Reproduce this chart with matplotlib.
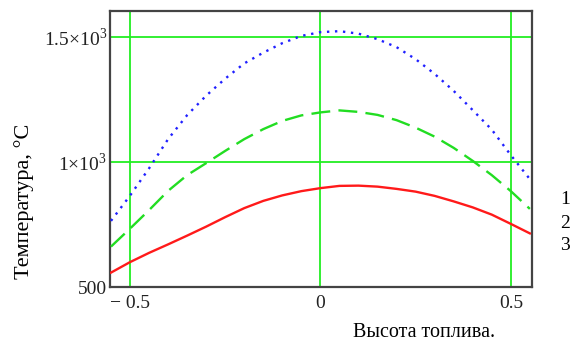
import numpy as np
import matplotlib.pyplot as plt
from matplotlib.ticker import FixedLocator, FixedFormatter

# Fuel height (x) and temperature readings for three curves
height = [-0.55, -0.50, -0.45, -0.40, -0.35, -0.30, -0.25, -0.20, -0.15, -0.10, -0.05, 0.00,
          0.05, 0.10, 0.15, 0.20, 0.25, 0.30, 0.35, 0.40, 0.45, 0.50, 0.55]
temp_1 = [765, 866, 975, 1092, 1188, 1266, 1334, 1395, 1438, 1476, 1505, 1520,
          1524, 1514, 1492, 1460, 1412, 1353, 1285, 1208, 1130, 1028, 932]
temp_2 = [662, 734, 808, 885, 948, 996, 1045, 1092, 1132, 1165, 1187, 1199,
          1207, 1201, 1189, 1168, 1138, 1102, 1057, 1005, 948, 884, 813]
temp_3 = [558, 600, 637, 671, 706, 742, 780, 816, 845, 867, 884, 896,
          905, 906, 902, 893, 882, 865, 843, 819, 790, 753, 715]

x_ticks = [-0.5, 0, 0.5]
x_tick_labels = ['\u2212 0.5', '0', '0.5']
y_ticks = [500, 1000, 1500]
y_tick_labels = ['500', '1\u00d710$^3$', '1.5\u00d710$^3$']
curve_labels = ['1', '2', '3']

plt.rcParams['font.family'] = ['Liberation Serif', 'DejaVu Serif']
plt.rcParams['mathtext.fontset'] = 'custom'
plt.rcParams['mathtext.rm'] = 'Liberation Serif'

fig = plt.figure(figsize=(5.78, 3.41), dpi=100)
ax = fig.add_axes([0.190, 0.158, 0.730, 0.810])

grid_color = '#22ee22'
for gx in x_ticks:
    ax.axvline(gx, color=grid_color, lw=1.3, zorder=1)
for gy in y_ticks[1:]:
    ax.axhline(gy, color=grid_color, lw=1.3, zorder=1)

ax.plot(height, temp_1, color='#2020ff', lw=1.7, linestyle=(0, (1, 2.4)), zorder=3)
ax.plot(height, temp_2, color='#22dd22', lw=1.7, linestyle=(0, (8, 3.5)), zorder=3)
ax.plot(height, temp_3, color='#ff1a1a', lw=1.7, zorder=3)

ax.set_xlim(-0.553, 0.555)
ax.set_ylim(500, 1605)

ax.xaxis.set_major_locator(FixedLocator(x_ticks))
ax.xaxis.set_major_formatter(FixedFormatter(x_tick_labels))
ax.yaxis.set_major_locator(FixedLocator(y_ticks))
ax.yaxis.set_major_formatter(FixedFormatter(y_tick_labels))
ax.tick_params(length=0, labelsize=14, colors='#222222')
ax.tick_params(axis='y', pad=2)
ax.tick_params(axis='x', pad=6)

for s in ax.spines.values():
    s.set_color('#444444')
    s.set_linewidth(1.6)

ax.set_xlabel('Высота топлива.', fontsize=14.5)
ax.xaxis.set_label_coords(0.744, -0.13)
ax.set_ylabel('Температура, \u00b0C', fontsize=16)
ax.yaxis.set_label_coords(-0.18, 0.31)

for i, lab in enumerate(curve_labels):
    fig.text(0.978, 1 - (200 + 23 * i) / 341, lab, fontsize=14, ha='center', va='center')

fig.savefig('out.png', dpi=100)
